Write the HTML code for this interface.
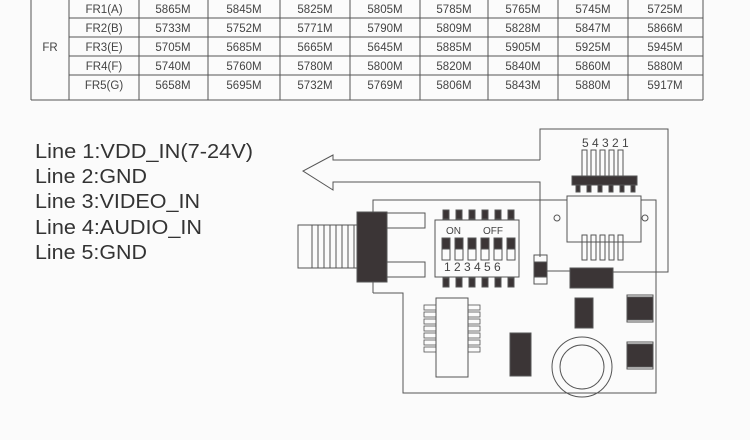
<!DOCTYPE html>
<html><head><meta charset="utf-8"><style>
body{margin:0;background:#fbfbfb;}
svg{display:block;}
text{font-family:"Liberation Sans",sans-serif;}
</style></head><body>
<svg width="750" height="440" viewBox="0 0 750 440" xmlns="http://www.w3.org/2000/svg">
<rect width="750" height="440" fill="#fbfbfb"/>
<g stroke="#555" stroke-width="1" fill="none">
<line x1="31" y1="-2" x2="31" y2="100"/>
<line x1="703" y1="-2" x2="703" y2="100"/>
<line x1="31" y1="100" x2="703" y2="100"/>
<line x1="69" y1="-2" x2="69" y2="100"/>
<line x1="139" y1="-2" x2="139" y2="100"/>
<line x1="208" y1="-2" x2="208" y2="100"/>
<line x1="280" y1="-2" x2="280" y2="100"/>
<line x1="350" y1="-2" x2="350" y2="100"/>
<line x1="420" y1="-2" x2="420" y2="100"/>
<line x1="488" y1="-2" x2="488" y2="100"/>
<line x1="558" y1="-2" x2="558" y2="100"/>
<line x1="628" y1="-2" x2="628" y2="100"/>
<line x1="69" y1="18" x2="703" y2="18"/>
<line x1="69" y1="37" x2="703" y2="37"/>
<line x1="69" y1="56" x2="703" y2="56"/>
<line x1="69" y1="75" x2="703" y2="75"/>
</g>
<g font-size="11.5" fill="#444" text-anchor="middle">
<text x="50" y="51">FR</text>
<text x="104" y="13">FR1(A)</text><text x="104" y="32">FR2(B)</text><text x="104" y="51">FR3(E)</text><text x="104" y="70">FR4(F)</text><text x="104" y="89">FR5(G)</text>
<text x="173" y="13">5865M</text><text x="244" y="13">5845M</text><text x="315" y="13">5825M</text><text x="385" y="13">5805M</text><text x="454" y="13">5785M</text><text x="523" y="13">5765M</text><text x="593" y="13">5745M</text><text x="665" y="13">5725M</text>
<text x="173" y="32">5733M</text><text x="244" y="32">5752M</text><text x="315" y="32">5771M</text><text x="385" y="32">5790M</text><text x="454" y="32">5809M</text><text x="523" y="32">5828M</text><text x="593" y="32">5847M</text><text x="665" y="32">5866M</text>
<text x="173" y="51">5705M</text><text x="244" y="51">5685M</text><text x="315" y="51">5665M</text><text x="385" y="51">5645M</text><text x="454" y="51">5885M</text><text x="523" y="51">5905M</text><text x="593" y="51">5925M</text><text x="665" y="51">5945M</text>
<text x="173" y="70">5740M</text><text x="244" y="70">5760M</text><text x="315" y="70">5780M</text><text x="385" y="70">5800M</text><text x="454" y="70">5820M</text><text x="523" y="70">5840M</text><text x="593" y="70">5860M</text><text x="665" y="70">5880M</text>
<text x="173" y="89">5658M</text><text x="244" y="89">5695M</text><text x="315" y="89">5732M</text><text x="385" y="89">5769M</text><text x="454" y="89">5806M</text><text x="523" y="89">5843M</text><text x="593" y="89">5880M</text><text x="665" y="89">5917M</text>
</g>
<g font-size="20" fill="#333">
<text x="35" y="158" textLength="218" lengthAdjust="spacingAndGlyphs">Line 1:VDD_IN(7-24V)</text>
<text x="35" y="183" textLength="112" lengthAdjust="spacingAndGlyphs">Line 2:GND</text>
<text x="35" y="208" textLength="165" lengthAdjust="spacingAndGlyphs">Line 3:VIDEO_IN</text>
<text x="35" y="234" textLength="167" lengthAdjust="spacingAndGlyphs">Line 4:AUDIO_IN</text>
<text x="35" y="259" textLength="112" lengthAdjust="spacingAndGlyphs">Line 5:GND</text>
</g>
<g stroke="#555" stroke-width="1" fill="none">
<polyline points="540,160 540,129 668,129 668,272 613,272"/>
<polyline points="540,160 333,160 333,155 303,171 333,190 333,182 540,182 540,257"/>
<polyline points="547,271 570,271"/>
<polyline points="373,293 373,200 656,200 656,393 403,393 403,293 373,293"/>
<rect x="298" y="225" width="60" height="43" fill="#fbfbfb"/>
<line x1="312" y1="225" x2="312" y2="268"/><line x1="318" y1="225" x2="318" y2="268"/><line x1="324" y1="225" x2="324" y2="268"/><line x1="330" y1="225" x2="330" y2="268"/><line x1="336" y1="225" x2="336" y2="268"/><line x1="342" y1="225" x2="342" y2="268"/><line x1="348" y1="225" x2="348" y2="268"/><line x1="354" y1="225" x2="354" y2="268"/>
<rect x="357" y="212" width="30" height="70" fill="#3b3536"/>
<rect x="387" y="213" width="38" height="15" fill="#fbfbfb"/>
<rect x="387" y="262" width="38" height="15" fill="#fbfbfb"/>
<rect x="435" y="220" width="84" height="57" fill="#fbfbfb"/>
<rect x="567" y="196" width="74" height="46" fill="#fbfbfb"/>
<circle cx="557" cy="218" r="3"/><circle cx="645" cy="218" r="3"/>
<rect x="436" y="298" width="32" height="79" fill="#fbfbfb"/>
<circle cx="582" cy="367" r="30"/><circle cx="582" cy="367" r="22"/>
</g>
<g fill="#3b3536" stroke="#555">
<rect x="443" y="210" width="6" height="9"/><rect x="456" y="210" width="6" height="9"/><rect x="469" y="210" width="6" height="9"/><rect x="482" y="210" width="6" height="9"/><rect x="495" y="210" width="6" height="9"/><rect x="508" y="210" width="6" height="9"/>
<rect x="443" y="278" width="6" height="9"/><rect x="456" y="278" width="6" height="9"/><rect x="469" y="278" width="6" height="9"/><rect x="482" y="278" width="6" height="9"/><rect x="495" y="278" width="6" height="9"/><rect x="508" y="278" width="6" height="9"/>
<rect x="442" y="238" width="8" height="11"/><rect x="455" y="238" width="8" height="11"/><rect x="468" y="238" width="8" height="11"/><rect x="481" y="238" width="8" height="11"/><rect x="494" y="238" width="8" height="11"/><rect x="507" y="238" width="8" height="11"/>
<rect x="572" y="176" width="65" height="9"/>
<rect x="576" y="185" width="4" height="7"/><rect x="587" y="185" width="4" height="7"/><rect x="598" y="185" width="4" height="7"/><rect x="609" y="185" width="4" height="7"/><rect x="620" y="185" width="4" height="7"/><rect x="631" y="185" width="4" height="7"/>
<rect x="534" y="262" width="13" height="15"/>
<rect x="570" y="268" width="43" height="20"/>
<rect x="575" y="298" width="18" height="30"/>
<rect x="510" y="333" width="21" height="43"/>
<rect x="627" y="297" width="26" height="23"/>
<rect x="627" y="344" width="26" height="23"/>
</g>
<g fill="none" stroke="#555">
<rect x="442" y="249" width="8" height="11"/><rect x="455" y="249" width="8" height="11"/><rect x="468" y="249" width="8" height="11"/><rect x="481" y="249" width="8" height="11"/><rect x="494" y="249" width="8" height="11"/><rect x="507" y="249" width="8" height="11"/>
<rect x="534" y="255" width="13" height="29"/>
<rect x="582" y="150" width="5" height="26"/><rect x="591" y="150" width="5" height="26"/><rect x="600" y="150" width="5" height="26"/><rect x="609" y="150" width="5" height="26"/><rect x="618" y="150" width="5" height="26"/>
<rect x="582" y="235" width="5" height="25"/><rect x="591" y="235" width="5" height="25"/><rect x="600" y="235" width="5" height="25"/><rect x="609" y="235" width="5" height="25"/><rect x="618" y="235" width="5" height="25"/>
<rect x="627" y="295" width="26" height="27"/><rect x="627" y="342" width="26" height="27"/>
<g stroke-width="0.8">
<rect x="424" y="305" width="12" height="5"/><rect x="424" y="312" width="12" height="5"/><rect x="424" y="319" width="12" height="5"/><rect x="424" y="326" width="12" height="5"/><rect x="424" y="333" width="12" height="5"/><rect x="424" y="340" width="12" height="5"/><rect x="424" y="347" width="12" height="5"/>
<rect x="468" y="305" width="12" height="5"/><rect x="468" y="312" width="12" height="5"/><rect x="468" y="319" width="12" height="5"/><rect x="468" y="326" width="12" height="5"/><rect x="468" y="333" width="12" height="5"/><rect x="468" y="340" width="12" height="5"/><rect x="468" y="347" width="12" height="5"/>
</g>
</g>
<g font-size="10" fill="#444">
<text x="446" y="234">ON</text><text x="483" y="234">OFF</text>
<text x="444" y="271" font-size="12">1 2 3 4 5 6</text>
<text x="582" y="147" font-size="12">5 4 3 2 1</text>
</g>
</svg>
</body></html>
